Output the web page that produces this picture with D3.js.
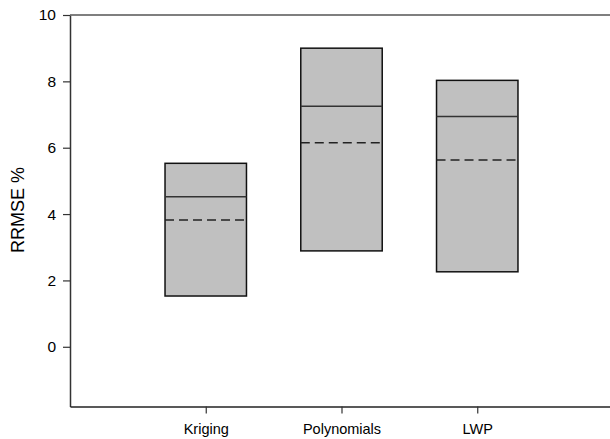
<!DOCTYPE html>
<html>
<head>
<meta charset="utf-8">
<script src="https://cdn.jsdelivr.net/npm/d3@7"></script>
<style>
  body { margin: 0; background: #fff; }
  text { font-family: Arial, "Liberation Sans", sans-serif; fill: #000; }
</style>
</head>
<body>
<svg width="610" height="439"></svg>
<script>
const methods = ['Kriging', 'Polynomials', 'LWP'];
const lows    = [1.53, 2.89, 2.26];
const highs   = [5.53, 9.00, 8.03];
const medians = [4.52, 7.25, 6.94];
const means   = [3.82, 6.15, 5.63];
const yTicks  = [0, 2, 4, 6, 8, 10];

const data = methods.map((m, i) => ({
  name: m, pos: i + 1, lo: lows[i], hi: highs[i], med: medians[i], mean: means[i]
}));

const svg = d3.select('svg');
const m = { left: 70, top: 15, right: 613, bottom: 406.5 };

const x = d3.scaleLinear().domain([0, 4]).range([m.left, m.right]);
const y = d3.scaleLinear().domain([-1.8, 10]).range([m.bottom, m.top]);
const boxW = x(0.6) - x(0);

// boxes
const g = svg.append('g');
g.selectAll('rect.box').data(data).enter()
  .append('rect')
  .attr('class', 'box')
  .attr('x', d => x(d.pos) - boxW / 2)
  .attr('y', d => y(d.hi))
  .attr('width', boxW)
  .attr('height', d => y(d.lo) - y(d.hi))
  .attr('fill', '#c0c0c0')
  .attr('stroke', '#111')
  .attr('stroke-width', 1.5);

// median lines
g.selectAll('line.med').data(data).enter()
  .append('line')
  .attr('x1', d => x(d.pos) - boxW / 2)
  .attr('x2', d => x(d.pos) + boxW / 2)
  .attr('y1', d => y(d.med))
  .attr('y2', d => y(d.med))
  .attr('stroke', '#333')
  .attr('stroke-width', 1.5);

// mean lines (dashed)
g.selectAll('line.mean').data(data).enter()
  .append('line')
  .attr('x1', d => x(d.pos) - boxW / 2)
  .attr('x2', d => x(d.pos) + boxW / 2)
  .attr('y1', d => y(d.mean))
  .attr('y2', d => y(d.mean))
  .attr('stroke', '#222')
  .attr('stroke-width', 1.5)
  .attr('stroke-dasharray', '9,5');

// y axis
const yAxis = svg.append('g')
  .attr('transform', `translate(${m.left},0)`)
  .call(d3.axisLeft(y).tickValues(yTicks).tickSize(7).tickPadding(7).tickSizeOuter(0));
yAxis.select('.domain').attr('stroke', '#333').attr('stroke-width', 1.5);
yAxis.selectAll('.tick line').attr('stroke', '#333').attr('stroke-width', 1.2);
yAxis.selectAll('text').attr('font-size', 15.5).style('font-family', 'Arial, "Liberation Sans", sans-serif');

// x axis
const xAxis = svg.append('g')
  .attr('transform', `translate(0,${m.bottom})`)
  .call(d3.axisBottom(x).tickValues([1, 2, 3]).tickFormat((d, i) => methods[i])
    .tickSize(7).tickPadding(10).tickSizeOuter(0));
xAxis.select('.domain').attr('stroke', '#222').attr('stroke-width', 1.5);
xAxis.selectAll('.tick line').attr('stroke', '#333').attr('stroke-width', 1.2);
xAxis.selectAll('text').attr('font-size', 14.5).style('font-family', 'Arial, "Liberation Sans", sans-serif');

// top frame line
svg.append('line')
  .attr('x1', m.left).attr('x2', m.right)
  .attr('y1', m.top).attr('y2', m.top)
  .attr('stroke', '#555').attr('stroke-width', 1.5);

// y label
svg.append('text')
  .attr('transform', `translate(24,210) rotate(-90)`)
  .attr('text-anchor', 'middle')
  .attr('font-size', 18)
  .text('RRMSE %');
</script>
</body>
</html>
